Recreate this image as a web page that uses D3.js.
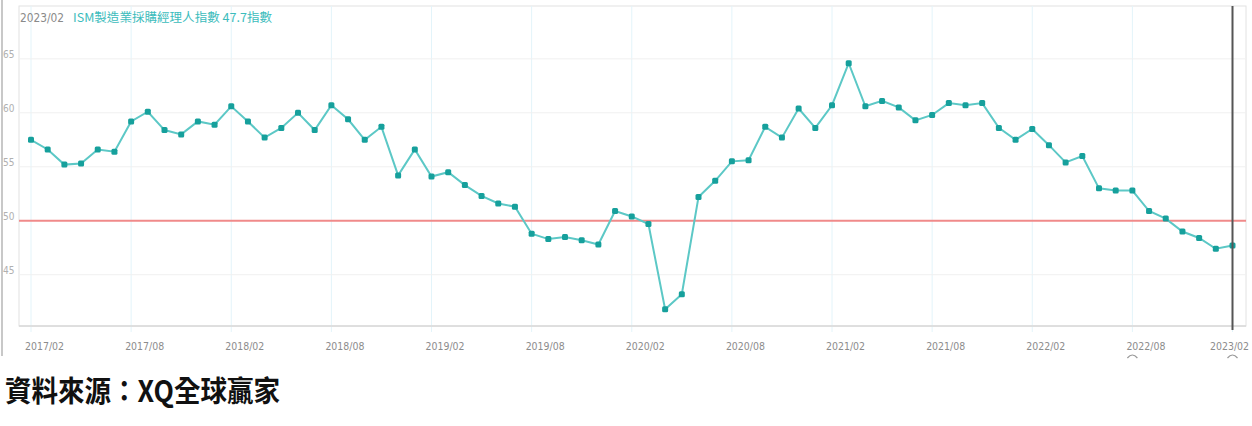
<!DOCTYPE html>
<html>
<head>
<meta charset="utf-8">
<script src="https://cdn.jsdelivr.net/npm/d3@7"></script>
<style>
  body { margin: 0; background: #fff; }
  svg { display: block; }
</style>
</head>
<body>
<script>
const W = 1252
const H = 426
const plot = { left: 19, top: 6, right: 1246, bottom: 326 }

// ISM manufacturing PMI, monthly 2017/02 .. 2023/02
const pmi = [
  57.5, 56.6, 55.2, 55.3, 56.6, 56.4, 59.2, 60.1, 58.4, 58.0, 59.2, 58.9,
  60.6, 59.2, 57.7, 58.6, 60.0, 58.4, 60.7, 59.4, 57.5, 58.7, 54.2, 56.6,
  54.1, 54.5, 53.3, 52.3, 51.6, 51.3, 48.8, 48.3, 48.5, 48.2, 47.8, 50.9,
  50.4, 49.7, 41.8, 43.2, 52.2, 53.7, 55.5, 55.6, 58.7, 57.7, 60.4, 58.6,
  60.7, 64.6, 60.6, 61.1, 60.5, 59.3, 59.8, 60.9, 60.7, 60.9, 58.6, 57.5,
  58.5, 57.0, 55.4, 56.0, 53.0, 52.8, 52.8, 50.9, 50.2, 49.0, 48.4, 47.4,
  47.7
]
const months = d3.timeMonth.range(new Date(2017, 1, 1), new Date(2023, 2, 1)).map(d3.timeFormat('%Y/%m'))
const xTicks = ['2017/02', '2017/08', '2018/02', '2018/08', '2019/02', '2019/08', '2020/02',
  '2020/08', '2021/02', '2021/08', '2022/02', '2022/08', '2023/02']
const yTicks = [45, 50, 55, 60, 65]
const refLevel = 50
const headerDate = '2023/02'
const headerText = 'ISM製造業採購經理人指數 47.7指數'
const sourceText = '資料來源：XQ全球贏家'

const svg = d3.select('body').append('svg').attr('width', W).attr('height', H)

const x = d3.scalePoint().domain(months).range([31, 1232.5])
const y = d3.scaleLinear().domain([40.25, 69.8]).range([plot.bottom, plot.top + 1])

// outer left rule
svg.append('line').attr('x1', 2).attr('x2', 2).attr('y1', 0).attr('y2', 356)
  .attr('stroke', '#c8c8c8').attr('stroke-width', 2)

// plot frame
svg.append('rect').attr('x', plot.left).attr('y', plot.top)
  .attr('width', plot.right - plot.left).attr('height', plot.bottom - plot.top)
  .attr('fill', 'none').attr('stroke', '#e2e2e2')

// vertical grid (6-month)
svg.append('g').selectAll('line').data(xTicks).enter().append('line')
  .attr('x1', d => x(d)).attr('x2', d => x(d))
  .attr('y1', plot.top).attr('y2', plot.bottom + 6)
  .attr('stroke', '#e3f4fa').attr('stroke-width', 1)

// horizontal grid
svg.append('g').selectAll('line').data(yTicks.filter(d => d !== refLevel)).enter().append('line')
  .attr('x1', plot.left).attr('x2', plot.right)
  .attr('y1', d => y(d)).attr('y2', d => y(d))
  .attr('stroke', '#f0f0f0').attr('stroke-width', 1)

// bottom axis line
svg.append('line').attr('x1', plot.left).attr('x2', plot.right)
  .attr('y1', plot.bottom).attr('y2', plot.bottom)
  .attr('stroke', '#d8d8d8').attr('stroke-width', 1.5)

// y labels
svg.append('g').selectAll('text').data(yTicks).enter().append('text')
  .attr('x', 3).attr('y', d => y(d) - 1)
  .text(d => d)
  .attr('font-family', 'DejaVu Sans Condensed').attr('font-size', 10)
  .attr('fill', '#b0b0b0')

// x labels (last one pulled in so it stays inside the frame)
svg.append('g').selectAll('text').data(xTicks).enter().append('text')
  .attr('x', d => Math.min(x(d) - 6, W - 42)).attr('y', 350)
  .text(d => d)
  .attr('font-family', 'DejaVu Sans Condensed').attr('font-size', 10)
  .attr('fill', '#8c8c8c').attr('textLength', 39).attr('lengthAdjust', 'spacingAndGlyphs')

// small markers under two labels
svg.append('g').selectAll('path').data(['2022/08', '2023/02']).enter().append('path')
  .attr('d', d => 'M' + (x(d) - 5) + ',358 Q' + x(d) + ',352 ' + (x(d) + 5) + ',358')
  .attr('fill', 'none').attr('stroke', '#999').attr('stroke-width', 1.2)

// reference line at 50
svg.append('line').attr('x1', plot.left).attr('x2', plot.right)
  .attr('y1', y(refLevel)).attr('y2', y(refLevel))
  .attr('stroke', '#f08a8a').attr('stroke-width', 2)

// PMI line
const line = d3.line().x((d, i) => x(months[i])).y(d => y(d))
svg.append('path').datum(pmi).attr('d', line)
  .attr('fill', 'none').attr('stroke', '#5cc8c6').attr('stroke-width', 2)

svg.append('g').selectAll('rect').data(pmi).enter().append('rect')
  .attr('x', (d, i) => x(months[i]) - 3).attr('y', d => y(d) - 3)
  .attr('width', 6).attr('height', 6).attr('rx', 1.5)
  .attr('fill', '#16a09c')

// cursor line
svg.append('line').attr('x1', x(headerDate)).attr('x2', x(headerDate))
  .attr('y1', plot.top).attr('y2', plot.bottom + 4)
  .attr('stroke', '#555').attr('stroke-width', 2)

// header
svg.append('text').attr('x', 20).attr('y', 22).text(headerDate)
  .attr('font-family', 'DejaVu Sans Condensed').attr('font-size', 12)
  .attr('fill', '#8a8a8a').attr('textLength', 44).attr('lengthAdjust', 'spacingAndGlyphs')
svg.append('text').attr('x', 73).attr('y', 22).text(headerText)
  .attr('font-family', 'Noto Sans CJK TC').attr('font-size', 12)
  .attr('fill', '#3cbcbc').attr('textLength', 199).attr('lengthAdjust', 'spacingAndGlyphs')

// source
svg.append('text').attr('x', 5).attr('y', 402).text(sourceText)
  .attr('font-family', 'Noto Sans CJK TC').attr('font-size', 29).attr('font-weight', 'bold')
  .attr('fill', '#111').attr('textLength', 275).attr('lengthAdjust', 'spacingAndGlyphs')
</script>
</body>
</html>
